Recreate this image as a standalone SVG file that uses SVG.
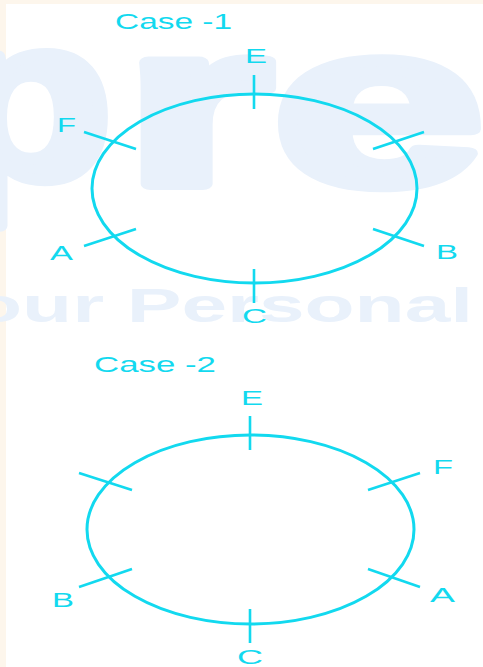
<svg xmlns="http://www.w3.org/2000/svg" width="483" height="667" viewBox="0 0 483 667">
<style>
.ln{stroke:#12d9ef;stroke-width:2.6;fill:none;stroke-linecap:butt}
.el{stroke:#12d9ef;stroke-width:3;fill:none}
.lb{font-family:"Liberation Sans",Arial,sans-serif;fill:#12d9ef;font-size:20px}
.ti{font-family:"Liberation Sans",Arial,sans-serif;fill:#12d9ef;font-size:22px}
.wm{font-family:"Liberation Sans",Arial,sans-serif;font-weight:bold;fill:#e9f1fb}
.wb{stroke:#e9f1fb;stroke-width:12;stroke-linejoin:round;font-size:230px}
</style>
<rect x="0" y="0" width="483" height="667" fill="#fdf6ec"/>
<rect x="6" y="4" width="477" height="663" fill="#ffffff"/>
<g id="watermark">
<text class="wm wb" x="-57" y="178" textLength="169" lengthAdjust="spacingAndGlyphs">p</text>
<text class="wm wb" x="124" y="184" textLength="148" lengthAdjust="spacingAndGlyphs">r</text>
<text class="wm wb" x="273" y="184" textLength="211" lengthAdjust="spacingAndGlyphs">e</text>
<text class="wm" x="-28" y="322" font-size="49" textLength="501" lengthAdjust="spacingAndGlyphs">our Personal</text>
</g>
<g id="case1">
<text class="ti" x="115" y="29" textLength="117" lengthAdjust="spacingAndGlyphs">Case -1</text>
<ellipse class="el" cx="254.5" cy="188.5" rx="162.5" ry="94.5"/>
</g>
<g id="connectors">
<line class="ln" x1="254" y1="75" x2="254" y2="109"/>
<line class="ln" x1="254" y1="269" x2="254" y2="303"/>
<line class="ln" x1="84" y1="132" x2="136" y2="149"/>
<line class="ln" x1="84" y1="246" x2="136" y2="229"/>
<line class="ln" x1="373" y1="149" x2="424" y2="132"/>
<line class="ln" x1="373" y1="229" x2="424" y2="246"/>
<line class="ln" x1="250" y1="416" x2="250" y2="450"/>
<line class="ln" x1="250" y1="609" x2="250" y2="643"/>
<line class="ln" x1="79" y1="473" x2="132" y2="490"/>
<line class="ln" x1="79" y1="587" x2="132" y2="569"/>
<line class="ln" x1="368" y1="490" x2="420" y2="473"/>
<line class="ln" x1="368" y1="569" x2="420" y2="587"/>
</g>
<g id="c1-E"><text class="lb" x="245" y="63" textLength="22" lengthAdjust="spacingAndGlyphs">E</text></g>
<g id="c1-F"><text class="lb" x="57" y="132" textLength="19" lengthAdjust="spacingAndGlyphs">F</text></g>
<g id="c1-A"><text class="lb" x="50" y="260" textLength="23" lengthAdjust="spacingAndGlyphs">A</text></g>
<g id="c1-B"><text class="lb" x="436" y="259" textLength="22" lengthAdjust="spacingAndGlyphs">B</text></g>
<g id="c1-C"><text class="lb" x="242" y="323" textLength="25" lengthAdjust="spacingAndGlyphs">C</text></g>
<g id="case2">
<text class="ti" x="94" y="372" textLength="122" lengthAdjust="spacingAndGlyphs">Case -2</text>
<ellipse class="el" cx="250.5" cy="529.5" rx="163.5" ry="94.5"/>
</g>
<g id="c2-E"><text class="lb" x="241" y="405" textLength="22" lengthAdjust="spacingAndGlyphs">E</text></g>
<g id="c2-F"><text class="lb" x="433" y="474" textLength="20" lengthAdjust="spacingAndGlyphs">F</text></g>
<g id="c2-A"><text class="lb" x="430" y="602" textLength="25" lengthAdjust="spacingAndGlyphs">A</text></g>
<g id="c2-B"><text class="lb" x="52" y="607" textLength="22" lengthAdjust="spacingAndGlyphs">B</text></g>
<g id="c2-C"><text class="lb" x="237" y="664" textLength="26" lengthAdjust="spacingAndGlyphs">C</text></g>
</svg>
